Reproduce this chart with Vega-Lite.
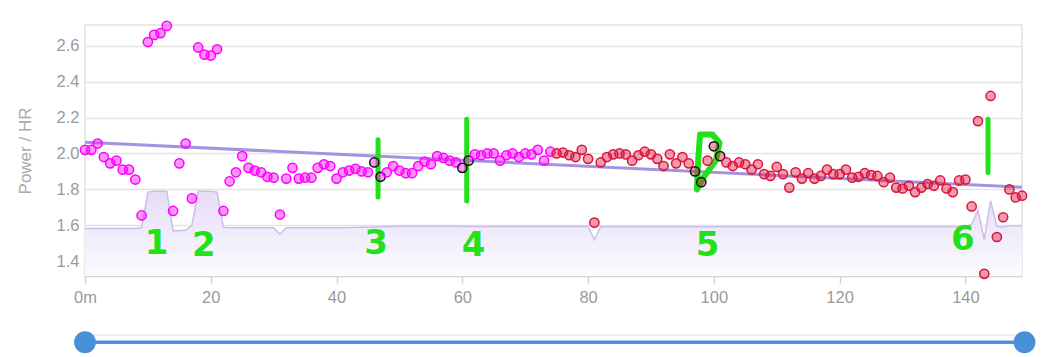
{
  "$schema": "https://vega.github.io/schema/vega-lite/v6.json",
  "autosize": {"type": "none"},
  "width": 937,
  "height": 251,
  "padding": {"left": 85, "top": 25, "right": 28, "bottom": 81},
  "background": "white",
  "view": {"stroke": "#e2e2e2", "strokeWidth": 1.5},
  "config": {
    "font": "Liberation Sans",
    "axis": {"labelFont": "Liberation Sans", "titleFont": "Liberation Sans"}
  },
  "datasets": {
    "pts": [
      {"t":0,"v":2.02,"base":1.582,"half":"A","hl":false},
      {"t":1,"v":2.02,"base":1.582,"half":"A","hl":false},
      {"t":2,"v":2.055,"base":1.582,"half":"A","hl":false},
      {"t":3,"v":1.98,"base":1.582,"half":"A","hl":false},
      {"t":4,"v":1.945,"base":1.582,"half":"A","hl":false},
      {"t":5,"v":1.96,"base":1.582,"half":"A","hl":false},
      {"t":6,"v":1.91,"base":1.582,"half":"A","hl":false},
      {"t":7,"v":1.91,"base":1.582,"half":"A","hl":false},
      {"t":8,"v":1.855,"base":1.582,"half":"A","hl":false},
      {"t":9,"v":1.655,"base":1.586,"half":"A","hl":false},
      {"t":10,"v":2.62,"base":1.785,"half":"A","hl":false},
      {"t":11,"v":2.66,"base":1.79,"half":"A","hl":false},
      {"t":12,"v":2.67,"base":1.79,"half":"A","hl":false},
      {"t":13,"v":2.71,"base":1.79,"half":"A","hl":false},
      {"t":14,"v":1.68,"base":1.57,"half":"A","hl":false},
      {"t":15,"v":1.945,"base":1.57,"half":"A","hl":false},
      {"t":16,"v":2.055,"base":1.572,"half":"A","hl":false},
      {"t":17,"v":1.75,"base":1.6,"half":"A","hl":false},
      {"t":18,"v":2.59,"base":1.79,"half":"A","hl":false},
      {"t":19,"v":2.55,"base":1.79,"half":"A","hl":false},
      {"t":20,"v":2.545,"base":1.79,"half":"A","hl":false},
      {"t":21,"v":2.58,"base":1.785,"half":"A","hl":false},
      {"t":22,"v":1.68,"base":1.59,"half":"A","hl":false},
      {"t":23,"v":1.845,"base":1.586,"half":"A","hl":false},
      {"t":24,"v":1.895,"base":1.586,"half":"A","hl":false},
      {"t":25,"v":1.985,"base":1.586,"half":"A","hl":false},
      {"t":26,"v":1.92,"base":1.586,"half":"A","hl":false},
      {"t":27,"v":1.905,"base":1.586,"half":"A","hl":false},
      {"t":28,"v":1.895,"base":1.586,"half":"A","hl":false},
      {"t":29,"v":1.87,"base":1.586,"half":"A","hl":false},
      {"t":30,"v":1.865,"base":1.586,"half":"A","hl":false},
      {"t":31,"v":1.66,"base":1.55,"half":"A","hl":false},
      {"t":32,"v":1.86,"base":1.586,"half":"A","hl":false},
      {"t":33,"v":1.92,"base":1.586,"half":"A","hl":false},
      {"t":34,"v":1.86,"base":1.586,"half":"A","hl":false},
      {"t":35,"v":1.865,"base":1.586,"half":"A","hl":false},
      {"t":36,"v":1.865,"base":1.586,"half":"A","hl":false},
      {"t":37,"v":1.92,"base":1.586,"half":"A","hl":false},
      {"t":38,"v":1.94,"base":1.586,"half":"A","hl":false},
      {"t":39,"v":1.93,"base":1.586,"half":"A","hl":false},
      {"t":40,"v":1.86,"base":1.586,"half":"A","hl":false},
      {"t":41,"v":1.895,"base":1.587,"half":"A","hl":false},
      {"t":42,"v":1.905,"base":1.588,"half":"A","hl":false},
      {"t":43,"v":1.915,"base":1.588,"half":"A","hl":false},
      {"t":44,"v":1.9,"base":1.589,"half":"A","hl":false},
      {"t":45,"v":1.895,"base":1.59,"half":"A","hl":false},
      {"t":46,"v":1.95,"base":1.591,"half":"A","hl":true},
      {"t":47,"v":1.87,"base":1.592,"half":"A","hl":true},
      {"t":48,"v":1.895,"base":1.593,"half":"A","hl":false},
      {"t":49,"v":1.93,"base":1.594,"half":"A","hl":false},
      {"t":50,"v":1.905,"base":1.595,"half":"A","hl":false},
      {"t":51,"v":1.89,"base":1.595,"half":"A","hl":false},
      {"t":52,"v":1.89,"base":1.595,"half":"A","hl":false},
      {"t":53,"v":1.93,"base":1.595,"half":"A","hl":false},
      {"t":54,"v":1.955,"base":1.595,"half":"A","hl":false},
      {"t":55,"v":1.94,"base":1.595,"half":"A","hl":false},
      {"t":56,"v":1.985,"base":1.595,"half":"A","hl":false},
      {"t":57,"v":1.975,"base":1.595,"half":"A","hl":false},
      {"t":58,"v":1.96,"base":1.595,"half":"A","hl":false},
      {"t":59,"v":1.95,"base":1.595,"half":"A","hl":false},
      {"t":60,"v":1.92,"base":1.594,"half":"A","hl":true},
      {"t":61,"v":1.96,"base":1.594,"half":"A","hl":true},
      {"t":62,"v":1.995,"base":1.593,"half":"A","hl":false},
      {"t":63,"v":1.99,"base":1.593,"half":"A","hl":false},
      {"t":64,"v":2.0,"base":1.593,"half":"A","hl":false},
      {"t":65,"v":2.0,"base":1.593,"half":"A","hl":false},
      {"t":66,"v":1.96,"base":1.593,"half":"A","hl":false},
      {"t":67,"v":1.99,"base":1.593,"half":"A","hl":false},
      {"t":68,"v":2.0,"base":1.593,"half":"A","hl":false},
      {"t":69,"v":1.98,"base":1.593,"half":"A","hl":false},
      {"t":70,"v":2.0,"base":1.593,"half":"A","hl":false},
      {"t":71,"v":1.995,"base":1.593,"half":"A","hl":false},
      {"t":72,"v":2.02,"base":1.593,"half":"A","hl":false},
      {"t":73,"v":1.96,"base":1.593,"half":"A","hl":false},
      {"t":74,"v":2.01,"base":1.593,"half":"A","hl":false},
      {"t":75,"v":2.0,"base":1.593,"half":"B","hl":false},
      {"t":76,"v":2.005,"base":1.593,"half":"B","hl":false},
      {"t":77,"v":1.99,"base":1.593,"half":"B","hl":false},
      {"t":78,"v":1.98,"base":1.593,"half":"B","hl":false},
      {"t":79,"v":2.02,"base":1.593,"half":"B","hl":false},
      {"t":80,"v":1.97,"base":1.593,"half":"B","hl":false},
      {"t":81,"v":1.615,"base":1.52,"half":"B","hl":false},
      {"t":82,"v":1.95,"base":1.592,"half":"B","hl":false},
      {"t":83,"v":1.98,"base":1.592,"half":"B","hl":false},
      {"t":84,"v":1.995,"base":1.592,"half":"B","hl":false},
      {"t":85,"v":2.0,"base":1.592,"half":"B","hl":false},
      {"t":86,"v":1.995,"base":1.592,"half":"B","hl":false},
      {"t":87,"v":1.96,"base":1.592,"half":"B","hl":false},
      {"t":88,"v":1.99,"base":1.592,"half":"B","hl":false},
      {"t":89,"v":2.01,"base":1.592,"half":"B","hl":false},
      {"t":90,"v":1.995,"base":1.592,"half":"B","hl":false},
      {"t":91,"v":1.97,"base":1.592,"half":"B","hl":false},
      {"t":92,"v":1.93,"base":1.592,"half":"B","hl":false},
      {"t":93,"v":1.995,"base":1.592,"half":"B","hl":false},
      {"t":94,"v":1.945,"base":1.592,"half":"B","hl":false},
      {"t":95,"v":1.98,"base":1.592,"half":"B","hl":false},
      {"t":96,"v":1.945,"base":1.592,"half":"B","hl":false},
      {"t":97,"v":1.9,"base":1.592,"half":"B","hl":true},
      {"t":98,"v":1.84,"base":1.592,"half":"B","hl":true},
      {"t":99,"v":1.96,"base":1.592,"half":"B","hl":false},
      {"t":100,"v":2.04,"base":1.592,"half":"B","hl":true},
      {"t":101,"v":1.985,"base":1.592,"half":"B","hl":true},
      {"t":102,"v":1.95,"base":1.592,"half":"B","hl":false},
      {"t":103,"v":1.93,"base":1.592,"half":"B","hl":false},
      {"t":104,"v":1.95,"base":1.592,"half":"B","hl":false},
      {"t":105,"v":1.94,"base":1.592,"half":"B","hl":false},
      {"t":106,"v":1.91,"base":1.592,"half":"B","hl":false},
      {"t":107,"v":1.94,"base":1.592,"half":"B","hl":false},
      {"t":108,"v":1.885,"base":1.592,"half":"B","hl":false},
      {"t":109,"v":1.875,"base":1.592,"half":"B","hl":false},
      {"t":110,"v":1.925,"base":1.592,"half":"B","hl":false},
      {"t":111,"v":1.885,"base":1.592,"half":"B","hl":false},
      {"t":112,"v":1.81,"base":1.592,"half":"B","hl":false},
      {"t":113,"v":1.895,"base":1.592,"half":"B","hl":false},
      {"t":114,"v":1.86,"base":1.592,"half":"B","hl":false},
      {"t":115,"v":1.89,"base":1.592,"half":"B","hl":false},
      {"t":116,"v":1.86,"base":1.592,"half":"B","hl":false},
      {"t":117,"v":1.875,"base":1.592,"half":"B","hl":false},
      {"t":118,"v":1.91,"base":1.592,"half":"B","hl":false},
      {"t":119,"v":1.885,"base":1.592,"half":"B","hl":false},
      {"t":120,"v":1.885,"base":1.592,"half":"B","hl":false},
      {"t":121,"v":1.91,"base":1.592,"half":"B","hl":false},
      {"t":122,"v":1.865,"base":1.592,"half":"B","hl":false},
      {"t":123,"v":1.87,"base":1.592,"half":"B","hl":false},
      {"t":124,"v":1.89,"base":1.592,"half":"B","hl":false},
      {"t":125,"v":1.88,"base":1.592,"half":"B","hl":false},
      {"t":126,"v":1.875,"base":1.592,"half":"B","hl":false},
      {"t":127,"v":1.84,"base":1.592,"half":"B","hl":false},
      {"t":128,"v":1.865,"base":1.592,"half":"B","hl":false},
      {"t":129,"v":1.81,"base":1.592,"half":"B","hl":false},
      {"t":130,"v":1.805,"base":1.592,"half":"B","hl":false},
      {"t":131,"v":1.82,"base":1.592,"half":"B","hl":false},
      {"t":132,"v":1.785,"base":1.592,"half":"B","hl":false},
      {"t":133,"v":1.81,"base":1.592,"half":"B","hl":false},
      {"t":134,"v":1.83,"base":1.592,"half":"B","hl":false},
      {"t":135,"v":1.82,"base":1.592,"half":"B","hl":false},
      {"t":136,"v":1.85,"base":1.592,"half":"B","hl":false},
      {"t":137,"v":1.805,"base":1.592,"half":"B","hl":false},
      {"t":138,"v":1.785,"base":1.592,"half":"B","hl":false},
      {"t":139,"v":1.85,"base":1.592,"half":"B","hl":false},
      {"t":140,"v":1.855,"base":1.592,"half":"B","hl":false},
      {"t":141,"v":1.705,"base":1.606,"half":"B","hl":false},
      {"t":142,"v":2.18,"base":1.684,"half":"B","hl":false},
      {"t":143,"v":1.33,"base":1.52,"half":"B","hl":false},
      {"t":144,"v":2.32,"base":1.736,"half":"B","hl":false},
      {"t":145,"v":1.535,"base":1.595,"half":"B","hl":false},
      {"t":146,"v":1.645,"base":1.59,"half":"B","hl":false},
      {"t":147,"v":1.8,"base":1.597,"half":"B","hl":false},
      {"t":148,"v":1.755,"base":1.597,"half":"B","hl":false},
      {"t":149,"v":1.765,"base":1.597,"half":"B","hl":false}
    ],
    "trend": [{"t": 0, "v": 2.063}, {"t": 149, "v": 1.812}],
    "marks": [
      {"t": 46.6, "v": 2.076, "v2": 1.758},
      {"t": 60.7, "v": 2.19, "v2": 1.736},
      {"t": 143.6, "v": 2.19, "v2": 1.894}
    ],
    "loop": [
      {"i": 0, "t": 97.8, "v": 2.105},
      {"i": 1, "t": 99.8, "v": 2.105},
      {"i": 2, "t": 100.9, "v": 2.06},
      {"i": 3, "t": 100.3, "v": 1.96},
      {"i": 4, "t": 98.6, "v": 1.88},
      {"i": 5, "t": 97.3, "v": 1.8},
      {"i": 6, "t": 97.5, "v": 1.96},
      {"i": 7, "t": 97.8, "v": 2.105}
    ],
    "labels": [
      {"t": 11.4, "v": 1.494, "txt": "1"},
      {"t": 18.9, "v": 1.484, "txt": "2"},
      {"t": 46.3, "v": 1.497, "txt": "3"},
      {"t": 61.8, "v": 1.484, "txt": "4"},
      {"t": 99.0, "v": 1.484, "txt": "5"},
      {"t": 139.6, "v": 1.517, "txt": "6"}
    ],
    "slider": [{"t": 0, "v": 0.949, "g": 0.988}, {"t": 149.4, "v": 0.949, "g": 0.988}]
  },
  "encoding": {
    "x": {
      "field": "t", "type": "quantitative",
      "scale": {"domain": [0, 149], "nice": false, "zero": false},
      "axis": {
        "title": null, "values": [0, 20, 40, 60, 80, 100, 120, 140],
        "labelExpr": "datum.value == 0 ? '0m' : datum.label",
        "labelFlush": false,
        "labelFontSize": 16.5, "labelColor": "#9a9a9a", "labelPadding": 6,
        "grid": false, "domainColor": "#d6d6d6", "domainWidth": 1.5,
        "tickColor": "#d0d0d0", "tickSize": 7, "tickWidth": 1.5
      }
    },
    "y": {
      "field": "v", "type": "quantitative",
      "scale": {"domain": [1.318, 2.715], "nice": false, "zero": false},
      "axis": {
        "title": "Power / HR", "values": [1.4, 1.6, 1.8, 2.0, 2.2, 2.4, 2.6],
        "format": ".1f", "labelFontSize": 16.5, "labelColor": "#9a9a9a",
        "labelPadding": 6, "ticks": false, "domain": false,
        "grid": true, "gridColor": "#e4e4e4", "gridWidth": 1.5,
        "titleFontSize": 17, "titleFontWeight": "normal", "titleColor": "#aaaaaa",
        "titlePadding": 22
      }
    }
  },
  "layer": [
    {
      "data": {"name": "pts"},
      "mark": {"type": "area", "clip": true, "opacity": 1,
        "fill": {"gradient": "linear", "x1": 0, "y1": 0, "x2": 0, "y2": 1,
          "stops": [{"offset": 0, "color": "#e6ddf7"}, {"offset": 0.45, "color": "#efeafa"}, {"offset": 1, "color": "#fcfbff"}]}},
      "encoding": {"y": {"field": "base", "type": "quantitative"}, "y2": {"datum": 1.318}}
    },
    {
      "data": {"name": "pts"},
      "mark": {"type": "line", "color": "#cbbdec", "strokeWidth": 1.5},
      "encoding": {"y": {"field": "base", "type": "quantitative"}}
    },
    {
      "data": {"name": "trend"},
      "mark": {"type": "line", "color": "#a791e1", "strokeWidth": 3},
      "encoding": {}
    },
    {
      "data": {"name": "marks"},
      "mark": {"type": "rule", "color": "#22e01a", "strokeWidth": 5, "strokeCap": "round"},
      "encoding": {"y2": {"field": "v2"}}
    },
    {
      "data": {"name": "loop"},
      "mark": {"type": "line", "color": "#22e01a", "strokeWidth": 6, "strokeCap": "round", "strokeJoin": "round"},
      "encoding": {"order": {"field": "i", "type": "quantitative"}}
    },
    {
      "data": {"name": "labels"},
      "mark": {"type": "text", "color": "#22e01a", "fontSize": 34, "fontWeight": "bold", "font": "DejaVu Sans", "align": "center", "baseline": "middle"},
      "encoding": {"text": {"field": "txt"}}
    },
    {
      "data": {"name": "pts"},
      "mark": {"type": "point", "filled": true, "size": 85, "fillOpacity": 0.42, "strokeWidth": 1.5, "strokeOpacity": 1, "opacity": 1},
      "encoding": {
        "fill": {"field": "half", "type": "nominal", "scale": {"domain": ["A", "B"], "range": ["#ff00ff", "#dc143c"]}, "legend": null},
        "stroke": {
          "condition": {"test": "datum.hl", "value": "#111111"},
          "field": "half", "type": "nominal",
          "scale": {"domain": ["A", "B"], "range": ["#ff00ff", "#dc143c"]}, "legend": null
        }
      }
    },
    {
      "data": {"name": "slider"},
      "mark": {"type": "rule", "color": "#e6eef5", "strokeWidth": 1.5, "clip": false},
      "encoding": {"x": {"datum": 0, "type": "quantitative"}, "x2": {"datum": 149.4}, "y": {"field": "g", "type": "quantitative"}}
    },
    {
      "data": {"name": "slider"},
      "mark": {"type": "rule", "color": "#4a90d9", "strokeWidth": 3, "clip": false},
      "encoding": {"x": {"datum": 0, "type": "quantitative"}, "x2": {"datum": 149.4}}
    },
    {
      "data": {"name": "slider"},
      "mark": {"type": "point", "filled": true, "size": 480, "color": "#4a90d9", "opacity": 1, "clip": false},
      "encoding": {}
    }
  ]
}
